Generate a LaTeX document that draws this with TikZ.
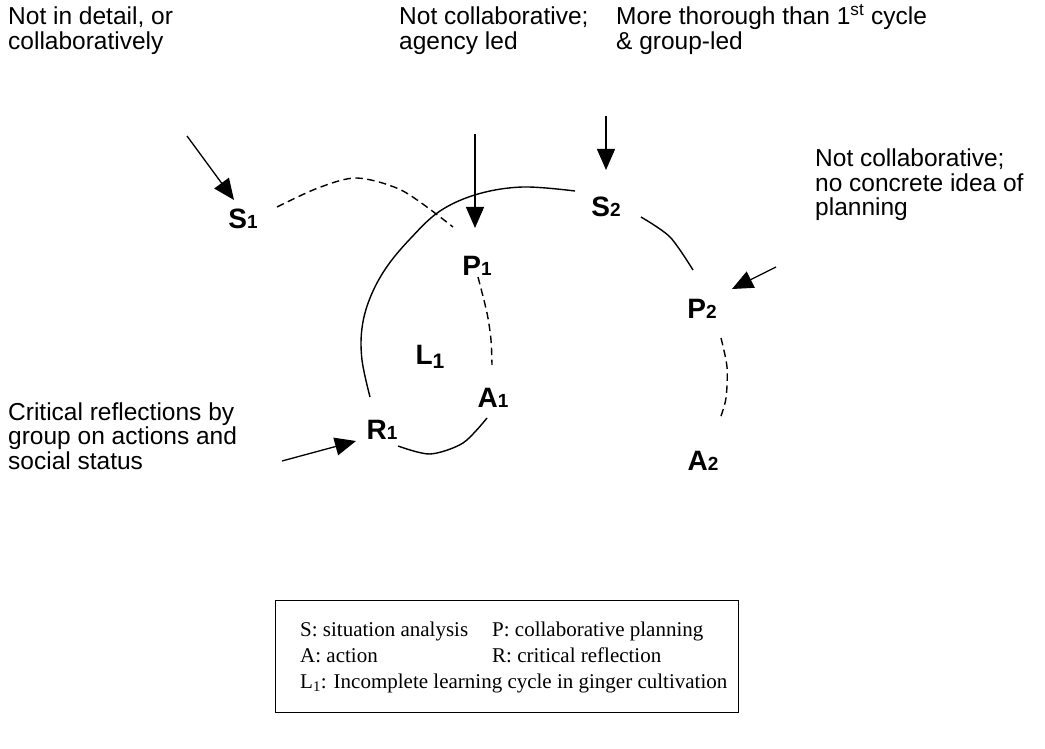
\documentclass[tikz,border=0pt]{standalone}
\usepackage{fontspec}
\setmainfont{Liberation Serif}
\newfontfamily\arialf{Liberation Sans}
\usetikzlibrary{arrows.meta}
\newcommand{\stk}[1]{\vtop{\halign{##\hfil\cr#1\crcr}}}
\newcommand{\dg}[1]{{\fontsize{19}{19}\selectfont #1}}
\begin{document}
\begin{tikzpicture}[x=1pt,y=-1pt,
  note/.style={anchor=base west, inner sep=0pt, font=\arialf\fontsize{24.5}{24.5}\selectfont},
  lbl/.style={inner sep=0pt, font=\arialf\bfseries\fontsize{28}{28}\selectfont},
  legtxt/.style={anchor=base west, inner sep=0pt, font=\fontsize{21}{21}\selectfont},
  arr/.style={line width=1.3pt, -{Triangle[length=21pt,width=18pt]}},
  solidc/.style={line width=1.4pt},
  dashc/.style={line width=1.4pt, dash pattern=on 7.5pt off 4.5pt}]
\useasboundingbox (0,0) rectangle (1045,749);
\fill[white] (0,0) rectangle (1045,749);

% annotations
\node[note] (n1) at (8,25) {\stk{Not in detail, or\cr collaboratively}};
\node[note] (n2) at (399,25) {\stk{Not collaborative;\cr agency led}};
\node[note] (n3) at (616,25) {\stk{More thorough than 1\textsuperscript{st} cycle\cr \& group-led}};
\node[note] (n4) at (815,167) {\stk{Not collaborative;\cr no concrete idea of\cr planning}};
\node[note] (n5) at (8,420) {\stk{Critical reflections by\cr group on actions and\cr social status}};

% cycle labels
\node[lbl] (S1) at (243,219) {S\dg{1}};
\node[lbl] (P1) at (477,266) {P\dg{1}};
\node[lbl] (L1) at (430,357) {L\raisebox{-4pt}{\fontsize{21}{21}\selectfont 1}};
\node[lbl] (A1) at (493,398) {A\dg{1}};
\node[lbl] (R1) at (382,430) {R\dg{1}};
\node[lbl] (S2) at (606,207) {S\dg{2}};
\node[lbl] (P2) at (702,309) {P\dg{2}};
\node[lbl] (A2) at (703,461) {A\dg{2}};

% arrows from annotations
\coordinate (S1from) at (187,136); \coordinate (S1to) at (234,200);
\coordinate (P1from) at (475,134); \coordinate (P1to) at (475,228);
\coordinate (S2from) at (606,116); \coordinate (S2to) at (606,170);
\coordinate (P2from) at (776,267); \coordinate (P2to) at (732,289);
\coordinate (R1from) at (282,461); \coordinate (R1to) at (356,441);
\draw[arr] (S1from) -- (S1to);
\draw[arr] (P1from) -- (P1to);
\draw[arr] (S2from) -- (S2to);
\draw[arr] (P2from) -- (P2to);
\draw[arr] (R1from) -- (R1to);

% cycle 1
\coordinate (s1e) at (277,207); \coordinate (p1w) at (453,227);
\draw[dashc] plot[smooth] coordinates {(s1e) (318,188) (357,178) (403,191) (p1w)};
\coordinate (p1s) at (478,277); \coordinate (a1n) at (492,365);
\draw[dashc] plot[smooth] coordinates {(p1s) (487,313) (491,340) (a1n)};
\coordinate (r1e) at (398,446); \coordinate (a1s) at (487,418);
\draw[solidc] plot[smooth] coordinates {(r1e) (430,454) (463,443) (a1s)};
\coordinate (r1n) at (370,397); \coordinate (s2w) at (575,191);
\draw[solidc] plot[smooth, tension=0.6] coordinates {(r1n) (362,360) (362,328) (370,298) (386,268) (410,239) (440,211) (478,194) (523,187) (s2w)};

% cycle 2
\coordinate (s2e) at (641,217); \coordinate (p2n) at (693,270);
\draw[solidc] plot[smooth] coordinates {(s2e) (670,237) (p2n)};
\coordinate (p2s) at (721,338); \coordinate (a2n) at (720,419);
\draw[dashc] plot[smooth] coordinates {(p2s) (727,367) (726,398) (a2n)};

% legend
\node[draw, line width=1.2pt, inner sep=0pt, minimum width=463pt, minimum height=112pt, anchor=north west] (legend) at (275,600) {};
\node[legtxt] (lgS) at (300,636) {S: situation analysis};
\node[legtxt] (lgP) at (492,636) {P: collaborative planning};
\node[legtxt] (lgA) at (300,662) {A: action};
\node[legtxt] (lgR) at (492,662) {R: critical reflection};
\node[legtxt] (lgL) at (300,688) {L\textsubscript{1}: Incomplete learning cycle in ginger cultivation};
\end{tikzpicture}
\end{document}
